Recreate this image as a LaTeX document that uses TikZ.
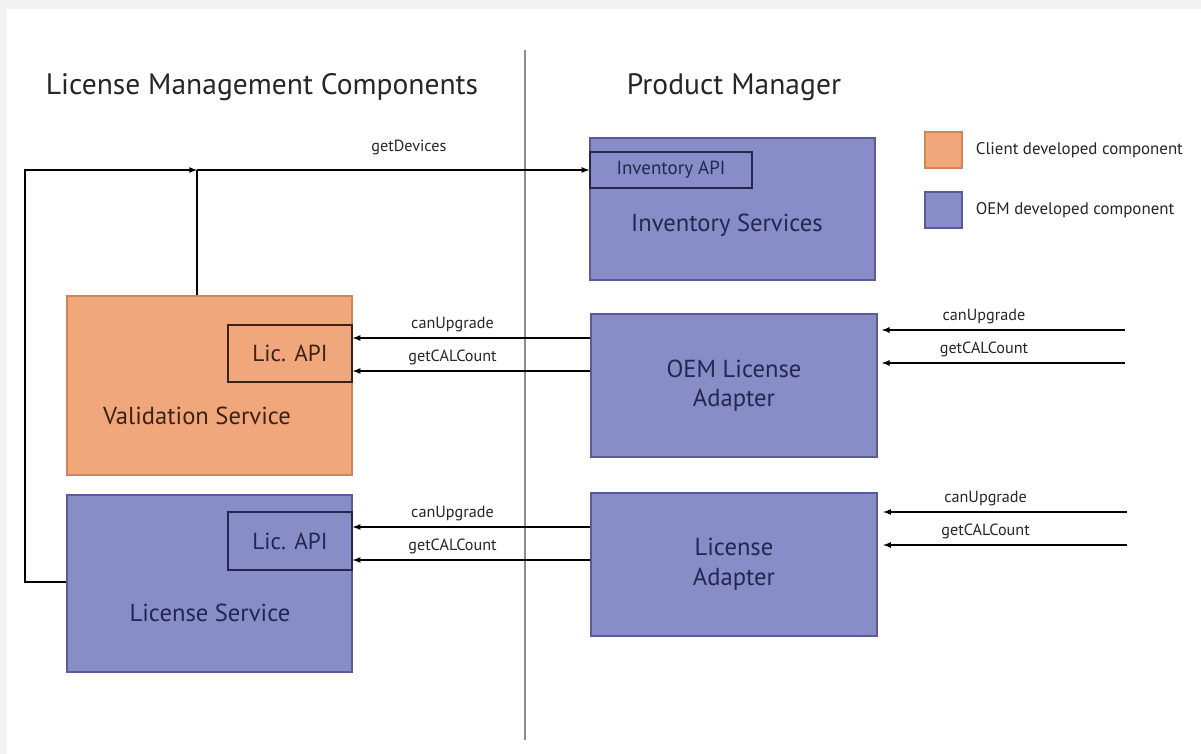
\documentclass[tikz,border=0pt]{standalone}
\usepackage{fontspec}
\setmainfont{PT Sans}
\usepackage{tikz}
\usetikzlibrary{positioning}
\definecolor{oemblue}{RGB}{136,141,200}
\definecolor{oemdark}{RGB}{88,92,150}
\definecolor{oemtext}{RGB}{34,38,80}
\definecolor{clientorange}{RGB}{241,167,124}
\definecolor{clientdark}{RGB}{214,130,88}
\definecolor{clienttext}{RGB}{60,34,20}
\tikzset{
  myarrow/.style={
    draw=black,
    line width=0.9pt,
    -latex,
  },
  myline/.style={
    draw=black,
    line width=0.9pt,
  },
  divider/.style={
    draw=black!45,
    line width=1.2pt,
  },
  oembox/.style={
    draw=oemdark,
    fill=oemblue,
    shape=rectangle,
    line width=0.8pt,
    align=center,
    inner sep=0pt,
    text=oemtext,
    font=\fontsize{17.5}{21}\selectfont
  },
  clientbox/.style={
    draw=clientdark,
    fill=clientorange,
    shape=rectangle,
    line width=0.8pt,
    align=center,
    inner sep=0pt,
    text=clienttext,
    font=\fontsize{17.5}{21}\selectfont
  },
  apibox/.style={
    shape=rectangle,
    line width=0.9pt,
    inner sep=0pt,
    font=\fontsize{16.5}{19}\selectfont
  },
  boxtext/.style={
    inner sep=0pt,
    font=\fontsize{17.5}{21}\selectfont
  },
  mylabel/.style={
    inner sep=1pt,
    text=black!85,
    font=\fontsize{11.5}{13}\selectfont
  },
  legendtext/.style={
    inner sep=0pt,
    text=black!85,
    font=\fontsize{12}{14}\selectfont
  },
  mytitle/.style={
    inner sep=0pt,
    text=black!85,
    font=\fontsize{21}{25}\selectfont
  },
}

\begin{document}
\begin{tikzpicture}[x=0.025cm, y=-0.025cm]
    \fill[black!5] (0,0) rectangle (1201,754);
    \fill[white] (7,9) rectangle (1201,754);
    \useasboundingbox (0,0) rectangle (1201,754);

    \node[mytitle] (lmctitle) at (262,87) {License Management Components};
    \node[mytitle] (pmtitle)  at (734,87) {Product Manager};
    \draw[divider] (525,50) -- (525,740);

    % license management side
    \node[clientbox, minimum width=7.125cm, minimum height=4.475cm] (valsvc) at (209.5,385.5) {};
    \node[apibox, draw=clienttext, minimum width=3.1cm, minimum height=1.425cm, text=clienttext] (licapia) at (290,353.5) {Lic. API};
    \node[boxtext, text=clienttext] (valtext) at (197,416) {Validation Service};

    \node[oembox, minimum width=7.125cm, minimum height=4.425cm] (licsvc) at (209.5,583.5) {};
    \node[apibox, draw=oemtext, minimum width=3.1cm, minimum height=1.45cm, text=oemtext] (licapib) at (290,541) {Lic. API};
    \node[boxtext, text=oemtext] (lictext) at (210,613) {License Service};

    % product manager side
    \node[oembox, minimum width=7.125cm, minimum height=3.55cm] (invsvc) at (732.5,209) {};
    \node[apibox, draw=oemtext, minimum width=4.05cm, minimum height=0.9cm, text=oemtext, font=\fontsize{13.5}{16}\selectfont] (invapi) at (671,170) {Inventory API};
    \node[boxtext, text=oemtext] (invtext) at (727,225) {Inventory Services};

    \node[oembox, minimum width=7.15cm, minimum height=3.575cm] (oemadapter) at (734,385.5) {OEM License\\Adapter};
    \node[oembox, minimum width=7.15cm, minimum height=3.575cm] (licadapter) at (734,564.5) {License\\Adapter};

    % legend
    \node[clientbox, minimum width=0.925cm, minimum height=0.9cm] (clientkey) at (943.5,150) {};
    \node[legendtext, right=0.325cm of clientkey] (clientkeytext) {Client developed component};
    \node[oembox, minimum width=0.925cm, minimum height=0.9cm] (oemkey) at (943.5,210) {};
    \node[legendtext, right=0.325cm of oemkey] (oemkeytext) {OEM developed component};

    % getDevices
    \coordinate (devjoin)   at (197,170);
    \coordinate (devcorner) at (25,170);
    \draw[myline]  (valsvc.north -| devjoin) -- (devjoin);
    \draw[myarrow] (licsvc.west |- 0,582) -| (devcorner) -- (devjoin);
    \draw[myarrow] (devjoin) -- node[mylabel, pos=0.54, above=9pt] {getDevices} (invapi.west);

    % adapters to Lic. API
    \draw[myarrow] (oemadapter.west |- 0,338) -- node[mylabel, pos=0.58, above=3pt] {canUpgrade} (licapia.east |- 0,338);
    \draw[myarrow] (oemadapter.west |- 0,371) -- node[mylabel, pos=0.58, above=3pt] {getCALCount} (licapia.east |- 0,371);
    \draw[myarrow] (licadapter.west |- 0,527) -- node[mylabel, pos=0.58, above=3pt] {canUpgrade} (licapib.east |- 0,527);
    \draw[myarrow] (licadapter.west |- 0,560) -- node[mylabel, pos=0.58, above=3pt] {getCALCount} (licapib.east |- 0,560);

    % incoming calls
    \coordinate (oemcallup)  at (1125,330);
    \coordinate (oemcallcal) at (1125,363);
    \coordinate (liccallup)  at (1127,512);
    \coordinate (liccallcal) at (1127,545);
    \draw[myarrow] (oemcallup)  -- node[mylabel, pos=0.58, above=3pt] {canUpgrade}  ([xshift=3pt]oemadapter.east |- oemcallup);
    \draw[myarrow] (oemcallcal) -- node[mylabel, pos=0.58, above=3pt] {getCALCount} ([xshift=3pt]oemadapter.east |- oemcallcal);
    \draw[myarrow] (liccallup)  -- node[mylabel, pos=0.58, above=3pt] {canUpgrade}  ([xshift=4pt]licadapter.east |- liccallup);
    \draw[myarrow] (liccallcal) -- node[mylabel, pos=0.58, above=3pt] {getCALCount} ([xshift=4pt]licadapter.east |- liccallcal);
\end{tikzpicture}
\end{document}
